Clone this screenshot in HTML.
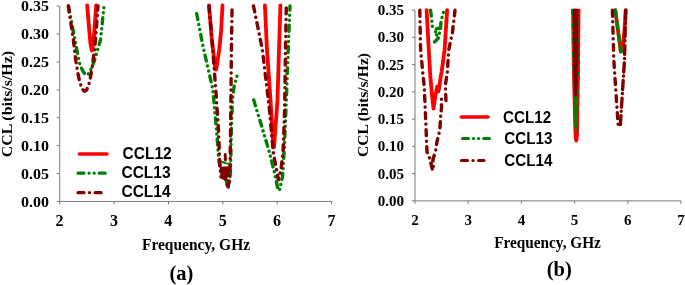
<!DOCTYPE html>
<html><head><meta charset="utf-8"><style>
html,body{margin:0;padding:0;background:#fff;width:685px;height:285px;overflow:hidden}
svg{display:block;filter:blur(0.3px)}
.t{font-family:"Liberation Serif",serif;font-weight:bold;fill:#000}
.l{font-family:"Liberation Sans",sans-serif;font-weight:bold;fill:#000}
</style></head><body>
<svg width="685" height="285" viewBox="0 0 685 285">
<line x1="59.7" y1="6.15" x2="59.7" y2="201.44" stroke="#7a7a7a" stroke-width="1"/>
<line x1="59.7" y1="201.44" x2="331.6" y2="201.44" stroke="#7a7a7a" stroke-width="1"/>
<line x1="56.7" y1="201.44" x2="59.7" y2="201.44" stroke="#7a7a7a" stroke-width="1"/>
<line x1="56.7" y1="173.54" x2="59.7" y2="173.54" stroke="#7a7a7a" stroke-width="1"/>
<line x1="56.7" y1="145.64" x2="59.7" y2="145.64" stroke="#7a7a7a" stroke-width="1"/>
<line x1="56.7" y1="117.74" x2="59.7" y2="117.74" stroke="#7a7a7a" stroke-width="1"/>
<line x1="56.7" y1="89.85" x2="59.7" y2="89.85" stroke="#7a7a7a" stroke-width="1"/>
<line x1="56.7" y1="61.95" x2="59.7" y2="61.95" stroke="#7a7a7a" stroke-width="1"/>
<line x1="56.7" y1="34.05" x2="59.7" y2="34.05" stroke="#7a7a7a" stroke-width="1"/>
<line x1="56.7" y1="6.15" x2="59.7" y2="6.15" stroke="#7a7a7a" stroke-width="1"/>
<line x1="59.70" y1="201.44" x2="59.70" y2="204.44" stroke="#7a7a7a" stroke-width="1"/>
<line x1="114.08" y1="201.44" x2="114.08" y2="204.44" stroke="#7a7a7a" stroke-width="1"/>
<line x1="168.46" y1="201.44" x2="168.46" y2="204.44" stroke="#7a7a7a" stroke-width="1"/>
<line x1="222.84" y1="201.44" x2="222.84" y2="204.44" stroke="#7a7a7a" stroke-width="1"/>
<line x1="277.22" y1="201.44" x2="277.22" y2="204.44" stroke="#7a7a7a" stroke-width="1"/>
<line x1="331.60" y1="201.44" x2="331.60" y2="204.44" stroke="#7a7a7a" stroke-width="1"/>
<text transform="translate(49.00,206.80) scale(1,0.97)" text-anchor="end" class="t" font-size="16">0.00</text>
<text transform="translate(49.00,178.86) scale(1,0.97)" text-anchor="end" class="t" font-size="16">0.05</text>
<text transform="translate(49.00,150.91) scale(1,0.97)" text-anchor="end" class="t" font-size="16">0.10</text>
<text transform="translate(49.00,122.97) scale(1,0.97)" text-anchor="end" class="t" font-size="16">0.15</text>
<text transform="translate(49.00,95.03) scale(1,0.97)" text-anchor="end" class="t" font-size="16">0.20</text>
<text transform="translate(49.00,67.09) scale(1,0.97)" text-anchor="end" class="t" font-size="16">0.25</text>
<text transform="translate(49.00,39.14) scale(1,0.97)" text-anchor="end" class="t" font-size="16">0.30</text>
<text transform="translate(49.00,11.20) scale(1,0.97)" text-anchor="end" class="t" font-size="16">0.35</text>
<text transform="translate(59.50,226.30)" text-anchor="middle" class="t" font-size="16">2</text>
<text transform="translate(113.90,226.30)" text-anchor="middle" class="t" font-size="16">3</text>
<text transform="translate(168.30,226.30)" text-anchor="middle" class="t" font-size="16">4</text>
<text transform="translate(222.70,226.30)" text-anchor="middle" class="t" font-size="16">5</text>
<text transform="translate(277.10,226.30)" text-anchor="middle" class="t" font-size="16">6</text>
<text transform="translate(331.50,226.30)" text-anchor="middle" class="t" font-size="16">7</text>
<text transform="translate(196.00,250.20) scale(1.0,1.04)" text-anchor="middle" class="t" font-size="15.5">Frequency, GHz</text>
<text transform="translate(181.50,279.50)" text-anchor="middle" class="t" font-size="20.5">(a)</text>
<text transform="translate(12.20,104.10) rotate(-90) scale(1.025,1)" text-anchor="middle" class="t" font-size="15.5">CCL (bits/s/Hz)</text>
<polyline points="87.2,5.5 88.8,25.0 90.5,44.0 91.8,50.5 93.3,44.0 94.8,25.0 96.2,5.5" fill="none" stroke="#ff0000" stroke-width="3.8" stroke-linecap="round" stroke-linejoin="round"/>
<polyline points="209.0,5.5 211.9,40.0 215.4,69.5 216.2,69.5 219.2,50.0 221.2,30.0 222.5,5.5" fill="none" stroke="#ff0000" stroke-width="3.8" stroke-linecap="round" stroke-linejoin="round"/>
<polyline points="264.9,5.5 267.0,50.0 270.5,100.0 273.4,147.4 274.0,147.4 277.5,100.0 279.0,50.0 280.4,5.5" fill="none" stroke="#ff0000" stroke-width="3.8" stroke-linecap="round" stroke-linejoin="round"/>
<polyline points="68.5,6.0 72.5,27.0 75.0,40.0 78.8,60.0 80.3,65.5 82.6,70.5 85.0,74.3 87.5,75.0 89.8,72.0 92.2,66.0 94.3,61.0 97.5,50.0 100.5,40.0 104.0,6.0" fill="none" stroke="#008000" stroke-width="3.4" stroke-linecap="round" stroke-linejoin="round" stroke-dasharray="6 5 0.1 5 0.1 5" stroke-dashoffset="0"/>
<polyline points="196.7,13.7 203.2,47.4 212.8,89.0 216.5,130.0 218.8,160.0 222.0,175.0 226.5,181.0 228.0,188.5 229.5,182.0 230.6,170.0 231.3,130.0 232.5,100.0 233.9,87.4 237.0,76.0" fill="none" stroke="#008000" stroke-width="3.4" stroke-linecap="round" stroke-linejoin="round" stroke-dasharray="6 5 0.1 5 0.1 5" stroke-dashoffset="0"/>
<polyline points="253.7,100.0 262.2,128.0 269.5,152.6 274.8,174.0 278.2,190.5 279.5,190.0 282.5,177.0 284.5,145.0 286.3,100.0 288.2,50.0 290.0,6.0" fill="none" stroke="#008000" stroke-width="3.4" stroke-linecap="round" stroke-linejoin="round" stroke-dasharray="6 5 0.1 5 0.1 5" stroke-dashoffset="0"/>
<polyline points="68.3,6.0 73.4,40.0 75.7,60.0 78.2,75.0 80.1,83.3 82.5,89.5 84.5,91.3 86.5,90.0 88.3,86.5 90.2,79.0 92.7,63.8 95.5,40.0 98.0,6.0" fill="none" stroke="#800000" stroke-width="3.4" stroke-linecap="round" stroke-linejoin="round" stroke-dasharray="6 5.5 0.1 5.5" stroke-dashoffset="0"/>
<polyline points="209.0,6.0 212.8,50.0 215.8,90.0 218.5,130.0 219.8,165.0 221.0,177.0 226.0,179.0 227.8,188.5 229.3,180.0 230.0,170.0 230.6,130.0 231.0,90.0 231.4,50.0 232.1,6.0" fill="none" stroke="#800000" stroke-width="3.4" stroke-linecap="round" stroke-linejoin="round" stroke-dasharray="6 5.5 0.1 5.5" stroke-dashoffset="0"/>
<polyline points="225.2,154.6 225.4,160.0" fill="none" stroke="#800000" stroke-width="3" stroke-linecap="round" stroke-linejoin="round"/>
<polygon points="220.3,167.5 228.3,167 228.8,174 226.3,178.5 221.5,177.5" fill="#800000" stroke="#800000" stroke-width="1.5" stroke-linejoin="round"/>
<polyline points="221.6,161.7 229.5,164.3" fill="none" stroke="#008000" stroke-width="2.2" stroke-linecap="round" stroke-linejoin="round" stroke-dasharray="4 2" stroke-dashoffset="0"/>
<polyline points="253.5,6.0 262.3,49.0 269.5,110.0 273.3,152.6 278.4,179.7 281.0,170.0 283.2,150.0 284.6,110.0 285.5,50.0 286.3,6.0" fill="none" stroke="#800000" stroke-width="3.4" stroke-linecap="round" stroke-linejoin="round" stroke-dasharray="6 5.5 0.1 5.5" stroke-dashoffset="0"/>
<polyline points="79.5,154.0 107.0,154.0" fill="none" stroke="#ff0000" stroke-width="3.6" stroke-linecap="round" stroke-linejoin="round"/>
<polyline points="78.0,173.2 107.5,173.2" fill="none" stroke="#008000" stroke-width="3.2" stroke-linecap="round" stroke-linejoin="round" stroke-dasharray="6 5 0.1 5 0.1 5" stroke-dashoffset="0"/>
<polyline points="78.0,192.7 102.5,192.7" fill="none" stroke="#800000" stroke-width="3.2" stroke-linecap="round" stroke-linejoin="round" stroke-dasharray="6 5.5 0.1 5.5" stroke-dashoffset="0"/>
<text transform="translate(122.60,159.40) scale(1.0,1.1)" text-anchor="start" class="l" font-size="15.5">CCL12</text>
<text transform="translate(121.50,178.00) scale(1.0,1.1)" text-anchor="start" class="l" font-size="15.5">CCL13</text>
<text transform="translate(121.50,197.40) scale(1.0,1.1)" text-anchor="start" class="l" font-size="15.5">CCL14</text>
<line x1="415" y1="10.1" x2="415" y2="200.85" stroke="#7a7a7a" stroke-width="1"/>
<line x1="415" y1="200.85" x2="681" y2="200.85" stroke="#7a7a7a" stroke-width="1"/>
<line x1="412" y1="200.85" x2="415" y2="200.85" stroke="#7a7a7a" stroke-width="1"/>
<line x1="412" y1="173.60" x2="415" y2="173.60" stroke="#7a7a7a" stroke-width="1"/>
<line x1="412" y1="146.35" x2="415" y2="146.35" stroke="#7a7a7a" stroke-width="1"/>
<line x1="412" y1="119.10" x2="415" y2="119.10" stroke="#7a7a7a" stroke-width="1"/>
<line x1="412" y1="91.85" x2="415" y2="91.85" stroke="#7a7a7a" stroke-width="1"/>
<line x1="412" y1="64.60" x2="415" y2="64.60" stroke="#7a7a7a" stroke-width="1"/>
<line x1="412" y1="37.35" x2="415" y2="37.35" stroke="#7a7a7a" stroke-width="1"/>
<line x1="412" y1="10.10" x2="415" y2="10.10" stroke="#7a7a7a" stroke-width="1"/>
<line x1="415.00" y1="200.85" x2="415.00" y2="203.85" stroke="#7a7a7a" stroke-width="1"/>
<line x1="468.20" y1="200.85" x2="468.20" y2="203.85" stroke="#7a7a7a" stroke-width="1"/>
<line x1="521.40" y1="200.85" x2="521.40" y2="203.85" stroke="#7a7a7a" stroke-width="1"/>
<line x1="574.60" y1="200.85" x2="574.60" y2="203.85" stroke="#7a7a7a" stroke-width="1"/>
<line x1="627.80" y1="200.85" x2="627.80" y2="203.85" stroke="#7a7a7a" stroke-width="1"/>
<line x1="681.00" y1="200.85" x2="681.00" y2="203.85" stroke="#7a7a7a" stroke-width="1"/>
<text transform="translate(404.00,206.00) scale(1,1.02)" text-anchor="end" class="t" font-size="15">0.00</text>
<text transform="translate(404.00,178.71) scale(1,1.02)" text-anchor="end" class="t" font-size="15">0.05</text>
<text transform="translate(404.00,151.43) scale(1,1.02)" text-anchor="end" class="t" font-size="15">0.10</text>
<text transform="translate(404.00,124.14) scale(1,1.02)" text-anchor="end" class="t" font-size="15">0.15</text>
<text transform="translate(404.00,96.86) scale(1,1.02)" text-anchor="end" class="t" font-size="15">0.20</text>
<text transform="translate(404.00,69.57) scale(1,1.02)" text-anchor="end" class="t" font-size="15">0.25</text>
<text transform="translate(404.00,42.29) scale(1,1.02)" text-anchor="end" class="t" font-size="15">0.30</text>
<text transform="translate(404.00,15.00) scale(1,1.02)" text-anchor="end" class="t" font-size="15">0.35</text>
<text transform="translate(415.00,224.80)" text-anchor="middle" class="t" font-size="15">2</text>
<text transform="translate(468.20,224.80)" text-anchor="middle" class="t" font-size="15">3</text>
<text transform="translate(521.40,224.80)" text-anchor="middle" class="t" font-size="15">4</text>
<text transform="translate(574.60,224.80)" text-anchor="middle" class="t" font-size="15">5</text>
<text transform="translate(627.80,224.80)" text-anchor="middle" class="t" font-size="15">6</text>
<text transform="translate(681.00,224.80)" text-anchor="middle" class="t" font-size="15">7</text>
<text transform="translate(547.50,248.20) scale(1.0,1.05)" text-anchor="middle" class="t" font-size="15.3">Frequency, GHz</text>
<text transform="translate(559.30,276.10)" text-anchor="middle" class="t" font-size="20.5">(b)</text>
<text transform="translate(367.50,105.00) rotate(-90) scale(1.036,1)" text-anchor="middle" class="t" font-size="15">CCL (bits/s/Hz)</text>
<polyline points="426.6,10.2 428.8,50.0 430.3,76.0 432.0,95.0 433.5,108.5 435.5,95.0 437.3,86.5 438.3,91.5 439.2,88.0 440.8,76.0 441.6,72.0 444.6,50.0 447.1,10.2" fill="none" stroke="#ff0000" stroke-width="3.8" stroke-linecap="round" stroke-linejoin="round"/>
<polygon points="571.8,9.5 579.8,9.5 579.2,70 578.8,100 578.4,125 578.1,136 577.5,140.8 576.2,142 575,140.8 574.4,136 574,125 573.4,100 572.7,70" fill="#f00000" stroke="#ff0000" stroke-width="1.4" stroke-linejoin="round"/>
<polyline points="615.3,10.2 620.8,51.6 622.5,50.0 624.5,30.0 625.8,10.2" fill="none" stroke="#ff0000" stroke-width="3.8" stroke-linecap="round" stroke-linejoin="round"/>
<polyline points="430.6,10.2 432.0,22.0 432.5,27.0 436.0,29.0 440.5,27.5 434.0,33.0 439.5,37.0 434.5,42.0 437.5,39.5 440.5,30.0 441.0,21.0 444.0,10.2" fill="none" stroke="#008000" stroke-width="3.4" stroke-linecap="round" stroke-linejoin="round" stroke-dasharray="6 5 0.1 5 0.1 5" stroke-dashoffset="0"/>
<polyline points="572.6,10.2 573.3,60.0 574.2,100.0 575.0,125.0" fill="none" stroke="#008000" stroke-width="2.4" stroke-linecap="round" stroke-linejoin="round" stroke-dasharray="4 5 0.1 5" stroke-dashoffset="0"/>
<polyline points="579.0,10.2 578.6,60.0 577.5,110.0 576.5,128.0" fill="none" stroke="#008000" stroke-width="2.2" stroke-linecap="round" stroke-linejoin="round" stroke-dasharray="2 8 0.1 7" stroke-dashoffset="5"/>
<polyline points="575.8,92.0 576.0,126.0" fill="none" stroke="#008000" stroke-width="3.2" stroke-linecap="round" stroke-linejoin="round" stroke-dasharray="5 2.5" stroke-dashoffset="0"/>
<polyline points="575.9,130.4 575.9,130.5" fill="none" stroke="#008000" stroke-width="2.8" stroke-linecap="round" stroke-linejoin="round"/>
<polyline points="615.3,10.2 620.8,51.6 622.3,50.5" fill="none" stroke="#008000" stroke-width="3.4" stroke-linecap="round" stroke-linejoin="round" stroke-dasharray="7 5" stroke-dashoffset="0"/>
<polyline points="419.8,10.2 420.6,50.0 424.3,87.4 425.7,120.0 427.0,151.8 429.5,158.0 432.7,170.5 433.6,165.0 432.8,160.0 435.7,150.5 436.9,142.0 439.8,130.0 440.8,114.0 441.5,108.0 441.5,99.0 446.0,101.0 445.6,92.0 445.5,84.0 447.4,72.0 448.6,50.5 452.4,32.8 455.0,10.2" fill="none" stroke="#800000" stroke-width="3.4" stroke-linecap="round" stroke-linejoin="round" stroke-dasharray="6 5.5 0.1 5.5" stroke-dashoffset="0"/>
<polyline points="574.6,10.2 575.0,60.0 575.6,95.0" fill="none" stroke="#800000" stroke-width="3.6" stroke-linecap="round" stroke-linejoin="round" stroke-dasharray="8 2.5" stroke-dashoffset="0"/>
<polyline points="577.0,10.2 576.8,60.0 576.2,88.0" fill="none" stroke="#800000" stroke-width="3" stroke-linecap="round" stroke-linejoin="round" stroke-dasharray="6 3" stroke-dashoffset="4"/>
<polyline points="612.4,10.2 613.8,60.0 618.3,127.4 619.3,128.0" fill="none" stroke="#800000" stroke-width="3.4" stroke-linecap="round" stroke-linejoin="round" stroke-dasharray="6 5.5 0.1 5.5" stroke-dashoffset="0"/>
<polyline points="625.6,10.2 624.5,60.0 620.2,127.0 619.3,128.0" fill="none" stroke="#800000" stroke-width="3.4" stroke-linecap="round" stroke-linejoin="round" stroke-dasharray="9 4 0.1 4.5" stroke-dashoffset="0"/>
<polyline points="461.3,117.0 488.0,117.0" fill="none" stroke="#ff0000" stroke-width="3.6" stroke-linecap="round" stroke-linejoin="round"/>
<polyline points="462.5,138.5 489.5,138.5" fill="none" stroke="#008000" stroke-width="3.2" stroke-linecap="round" stroke-linejoin="round" stroke-dasharray="6 5 0.1 5 0.1 5" stroke-dashoffset="0"/>
<polyline points="461.5,160.5 484.0,160.5" fill="none" stroke="#800000" stroke-width="3.2" stroke-linecap="round" stroke-linejoin="round" stroke-dasharray="6 5.5 0.1 5.5" stroke-dashoffset="0"/>
<text transform="translate(503.00,123.00) scale(1.0,1.07)" text-anchor="start" class="l" font-size="15.2">CCL12</text>
<text transform="translate(504.30,144.10) scale(1.0,1.07)" text-anchor="start" class="l" font-size="15.2">CCL13</text>
<text transform="translate(504.30,166.40) scale(1.0,1.07)" text-anchor="start" class="l" font-size="15.2">CCL14</text>
</svg>
</body></html>
